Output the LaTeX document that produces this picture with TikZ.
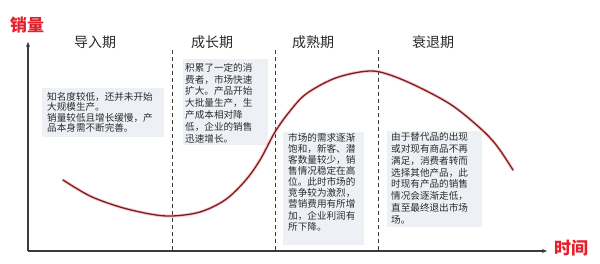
\documentclass[tikz,border=0pt]{standalone}
\usepackage{fontspec}
\setmainfont{Noto Sans CJK SC}
\usetikzlibrary{arrows.meta}
\definecolor{boxbg}{HTML}{EDF1F6}
\definecolor{curvec}{HTML}{7B1E22}
\definecolor{glow}{HTML}{F26C6C}
\definecolor{labred}{HTML}{E3202B}
\definecolor{txt}{HTML}{2B2B2B}
\definecolor{axisc}{HTML}{3A3A3A}
\begin{document}
\begin{tikzpicture}[x=1pt,y=-1pt,
  title/.style={font=\fontsize{14}{16}\selectfont, text=txt, inner sep=0},
  body/.style={anchor=north west, inner sep=0, align=left, text=txt, font=\fontsize{9.6}{#1}\selectfont},
  axislab/.style={font=\fontsize{17}{19}\selectfont\bfseries, text=labred, inner sep=0},
  axisline/.style={draw=axisc, line width=1.3pt, -{Stealth[length=5pt,width=4pt]}},
  divider/.style={draw=axisc, line width=0.9pt, dash pattern=on 4pt off 3pt},
  bgbox/.style={fill=boxbg, draw=none}]
\useasboundingbox (0,0) rectangle (600,263);
\fill[white] (0,0) rectangle (600,263);

% text backgrounds
\fill[bgbox] (42,88) rectangle (164,137);
\fill[bgbox] (183,59) rectangle (268,145);
\fill[bgbox] (283,132) rectangle (364,245);
\fill[bgbox] (387,131) rectangle (482,227);

% dividers
\coordinate (d1t) at (172,50); \coordinate (d1b) at (172,251);
\coordinate (d2t) at (275,50); \coordinate (d2b) at (275,251);
\coordinate (d3t) at (378,50); \coordinate (d3b) at (378,251);
\draw[divider] (d1t) -- (d1b);
\draw[divider] (d2t) -- (d2b);
\draw[divider] (d3t) -- (d3b);

% axes
\coordinate (O) at (28,251);
\coordinate (ytop) at (28,42);
\coordinate (xend) at (547,251);
\draw[axisline] (O) -- (ytop);
\draw[axisline] (O) -- (xend);
\node[axislab] (ylab) at (27,25) {销量};
\node[axislab] (xlab) at (571,248) {时间};

% titles
\node[title] (t1) at (95,42) {导入期};
\node[title] (t2) at (212,42) {成长期};
\node[title] (t3) at (313,42) {成熟期};
\node[title] (t4) at (433,42) {衰退期};

% curve
\def\curvepts{(63,180) (90,196) (120,207) (150,214) (172,216) (200,212) (225,200) (245,181) (260,160) (275,132) (290,111) (306,94) (333,79) (360,72) (380,72) (410,83) (450,104) (480,128) (497,146) (513,170)}
\draw[glow, opacity=0.35, line width=3.2pt, line cap=round] plot[smooth, tension=0.55] coordinates {\curvepts};
\draw[curvec, line width=1.3pt, line cap=round] plot[smooth, tension=0.55] coordinates {\curvepts};

% body texts
\node[body=10.5] (b1) at (47,92) {知名度较低，还并未开始\\大规模生产。\\销量较低且增长缓慢，产\\品本身需不断完善。};
\node[body=11.8] (b2) at (185,63) {积累了一定的消\\费者，市场快速\\扩大。产品开始\\大批量生产，生\\产成本相对降\\低，企业的销售\\迅速增长。};
\node[body=11.1] (b3) at (288,133) {市场的需求逐渐\\饱和，新客、潜\\客数量较少，销\\售情况稳定在高\\位。此时市场的\\竞争较为激烈，\\营销费用有所增\\加，企业利润有\\所下降。};
\node[body=11.9] (b4) at (391,132) {由于替代品的出现\\或对现有商品不再\\满足，消费者转而\\选择其他产品，此\\时现有产品的销售\\情况会逐渐走低，\\直至最终退出市场\\场。};
\end{tikzpicture}
\end{document}
